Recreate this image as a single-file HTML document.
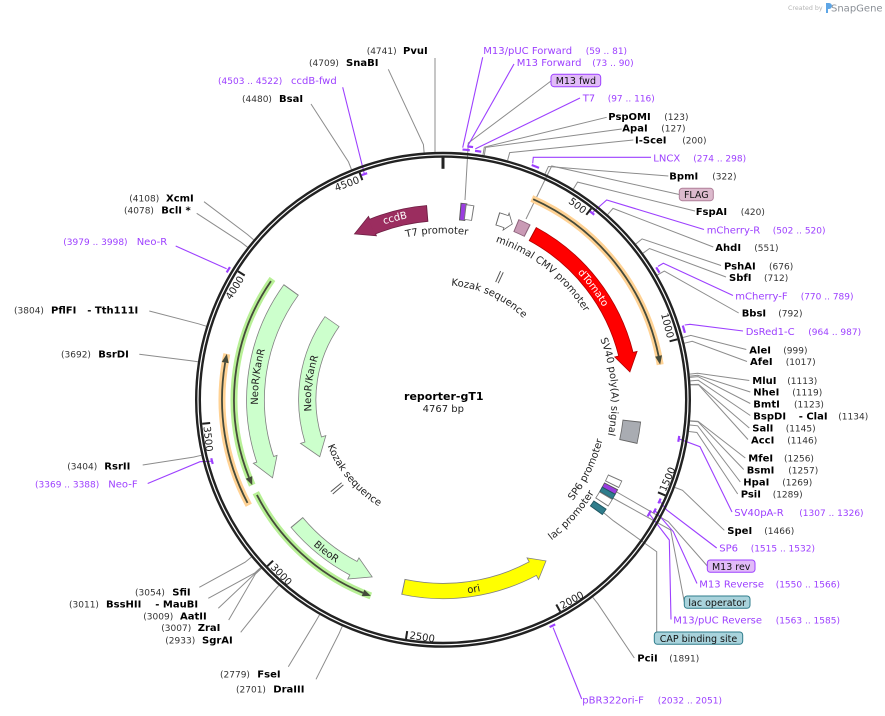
<!DOCTYPE html>
<html><head><meta charset="utf-8"><style>
html,body{margin:0;padding:0;background:#fff;}
svg{display:block;font-family:"DejaVu Sans","Liberation Sans",sans-serif;}
.n{font-size:9px;fill:#333}
.e{font-size:10px;font-weight:bold;fill:#000}
.p{font-size:10px;fill:#9d40ff}
.pn{font-size:9px;fill:#9d40ff}
.l{fill:none;stroke:#8c8c8c;stroke-width:1}
.pl{fill:none;stroke:#9d40ff;stroke-width:1.1}
.tk{font-size:10px;fill:#222}
.fl{font-size:10px;fill:#222}
.bx{font-size:9.5px;fill:#111}
.a{fill:none}
</style></head><body>
<svg width="885" height="716" viewBox="0 0 885 716" xmlns="http://www.w3.org/2000/svg">
<defs>
<path id="cw166" d="M443,233.3 A166.5,166.5 0 1 1 443,566.3 A166.5,166.5 0 1 1 443,233.3 A166.5,166.5 0 1 1 443,566.3 A166.5,166.5 0 1 1 443,233.3"/>
<path id="cw114" d="M443,285.3 A114.5,114.5 0 1 1 443,514.3 A114.5,114.5 0 1 1 443,285.3 A114.5,114.5 0 1 1 443,514.3 A114.5,114.5 0 1 1 443,285.3"/>
<path id="cw168" d="M443,231.3 A168.5,168.5 0 1 1 443,568.3 A168.5,168.5 0 1 1 443,231.3 A168.5,168.5 0 1 1 443,568.3 A168.5,168.5 0 1 1 443,231.3"/>
<path id="cw185" d="M443,214.8 A185,185 0 1 1 443,584.8 A185,185 0 1 1 443,214.8 A185,185 0 1 1 443,584.8 A185,185 0 1 1 443,214.8"/>
<path id="cw132" d="M443,267.8 A132,132 0 1 1 443,531.8 A132,132 0 1 1 443,267.8 A132,132 0 1 1 443,531.8 A132,132 0 1 1 443,267.8"/>
<path id="ccw164" d="M443,564.3 A164.5,164.5 0 1 0 443,235.3 A164.5,164.5 0 1 0 443,564.3 A164.5,164.5 0 1 0 443,235.3 A164.5,164.5 0 1 0 443,564.3"/>
<path id="ccw177" d="M443,577.3 A177.5,177.5 0 1 0 443,222.3 A177.5,177.5 0 1 0 443,577.3 A177.5,177.5 0 1 0 443,222.3 A177.5,177.5 0 1 0 443,577.3"/>
<path id="ccw124" d="M443,524.1 A124.3,124.3 0 1 0 443,275.5 A124.3,124.3 0 1 0 443,524.1 A124.3,124.3 0 1 0 443,275.5 A124.3,124.3 0 1 0 443,524.1"/>
<path id="ccw195" d="M443,594.8 A195,195 0 1 0 443,204.8 A195,195 0 1 0 443,594.8 A195,195 0 1 0 443,204.8 A195,195 0 1 0 443,594.8"/>
</defs>
<rect width="885" height="716" fill="#fff"/>

<!-- Created by SnapGene -->
<text x="788" y="10" font-size="6.3" fill="#b5b5b5">Created by</text>
<path d="M826,3 h3 a2.5,2.5 0 0 1 0,6 h-1 v4 h-2 z" fill="#5ea6e6"/>
<text x="831" y="11.5" font-size="10" fill="#8a8f96">SnapGene</text>

<!-- leader lines (gray) -->
<g class="l">
<polyline points="435,58 435,151.9"/>
<polyline points="388.3,69.3 423.4,144.5 424.1,152.5"/>
<polyline points="311,104 348.5,161.9 351.4,169.3"/>
<polyline points="204,201.7 247.5,234.5 253.6,239.7"/>
<polyline points="196.7,213.3 241.2,242.3 247.5,247.2"/>
<polyline points="149.3,311 198.5,323.8 206.2,326.2"/>
<polyline points="139.3,354.3 190,360.6 197.9,361.8"/>
<polyline points="142.7,465 193.5,457.1 201.3,455.3"/>
<polyline points="199.3,587.3 245.1,562.2 251.3,557.1"/>
<polyline points="208.3,598.3 254.6,573.1 260.5,567.7"/>
<polyline points="218.3,608.3 255,573.6 260.9,568.2"/>
<polyline points="228.7,620 255.4,574 261.4,568.5"/>
<polyline points="240.7,632.3 273.4,591.5 278.7,585.6"/>
<polyline points="288.3,666.7 315.5,621.8 319.5,614.9"/>
<polyline points="316,679.3 339,633.7 342.2,626.4"/>

<polyline points="606.7,117.3 484.3,147.2 483,155"/>
<polyline points="621.7,129 485.6,147.4 484.3,155.3"/>
<polyline points="633.3,140 509.7,152.6 507.6,160.3"/>
<polyline points="668.3,176 548.4,166.5 545.1,173.8"/>
<polyline points="695,211 577.6,182.1 573.4,188.9"/>
<polyline points="713.3,247 613,208.4 607.7,214.4"/>
<polyline points="721,265.5 642.1,238.9 635.9,243.9"/>
<polyline points="726,277 649.5,248.5 643,253.2"/>
<polyline points="738.7,313 664.3,271.1 657.3,275.1"/>
<polyline points="746.3,349.5 690.8,335.4 683,337.5"/>
<polyline points="747,361.5 692.2,341.3 684.5,343.2"/>
<polyline points="749.3,380.5 697.6,373.3 689.7,374.1"/>
<polyline points="750.3,392 697.8,375.3 689.9,376.1"/>
<polyline points="750.3,403.5 698,376.6 690,377.4"/>
<polyline points="750.3,415.5 698.3,380.3 690.3,380.9"/>
<polyline points="749.3,428 698.5,384.4 690.6,384.5"/>
<polyline points="748,439.5 698.6,384.8 690.6,384.9"/>
<polyline points="745.3,458 698.1,421.4 690.1,420.8"/>
<polyline points="743.7,469.5 698.1,421.8 690.1,421.1"/>
<polyline points="740.3,482 697.7,425.8 689.7,425"/>
<polyline points="737.7,494 696.9,432.5 689,431.5"/>
<polyline points="724.3,530.3 682.5,490.3 675,487.5"/>
<polyline points="634.3,658 597.8,603.7 592.9,597.4"/>

<polyline points="551,81 468.3,143 465,200"/>
<polyline points="679.3,194.5 551.7,166 526,219"/>
<polyline points="707.3,566 668.3,521.7 615,491"/>
<polyline points="684.3,602 670.7,530 611,497"/>
<polyline points="656.7,632 656.7,551.7 613.3,520.7 604,513"/>
</g>

<!-- primer leader lines -->
<g class="pl">
<polyline points="482.7,57.3 462.7,147.6"/>
<polyline points="514,64 467.4,146.5"/>
<polyline points="580,98 475.3,148.9"/>
<polyline points="651,157.3 533.3,157.3 532.7,163.3"/>
<polyline points="704,229.5 606.7,200 592.1,213"/>
<polyline points="733,295.5 663.3,263.3 658,266.4"/>
<polyline points="743,331 690,324.3 684.7,325"/>
<polyline points="732,512 700,446.7 678.8,438.8"/>
<polyline points="716.7,548 666.7,510 659.6,500.8"/>
<polyline points="697,583.5 673.3,531.7 654.8,510.5"/>
<polyline points="671,619.5 669.3,540 649.1,513.6"/>
<polyline points="581.7,699 553.1,627.6"/>
<polyline points="342.7,87.3 364.4,174.1"/>
<polyline points="175.7,246 226.6,268.8"/>
<polyline points="147.7,483.5 200,461.7 212.1,461.2"/>
</g>

<!-- main ring -->
<circle cx="443" cy="399.8" r="246.8" fill="none" stroke="#222" stroke-width="2.4"/>
<circle cx="443" cy="399.8" r="243.2" fill="none" stroke="#222" stroke-width="2.4"/>

<!-- primer brackets -->
<g fill="none" stroke="#9d40ff" stroke-width="2.2">
<circle cx="443" cy="399.8" r="251" stroke-dasharray="7.3 2000" transform="rotate(-85.54 443 399.8)"/>
<circle cx="443" cy="399.8" r="254.5" stroke-dasharray="5.7 2000" transform="rotate(-84.49 443 399.8)"/>
<circle cx="443" cy="399.8" r="251" stroke-dasharray="6.3 2000" transform="rotate(-82.67 443 399.8)"/>
<circle cx="443" cy="399.8" r="251" stroke-dasharray="7.9 2000" transform="rotate(-69.31 443 399.8)"/>
<circle cx="443" cy="399.8" r="251" stroke-dasharray="6.3 2000" transform="rotate(-31.85 443 399.8)"/>
<circle cx="443" cy="399.8" r="251" stroke-dasharray="7.6 2000" transform="rotate(-17.2 443 399.8)"/>
<circle cx="443" cy="399.8" r="251" stroke-dasharray="6.3 2000" transform="rotate(63.45 443 399.8)"/>
<circle cx="443" cy="399.8" r="251" stroke-dasharray="6.3 2000" transform="rotate(210.49 443 399.8)"/>
<circle cx="443" cy="399.8" r="239" stroke-dasharray="6.0 2000" transform="rotate(250.07 443 399.8)"/>
<circle cx="443" cy="399.8" r="239" stroke-dasharray="5.7 2000" transform="rotate(-52.09 443 399.8)"/>
<circle cx="443" cy="399.8" r="239" stroke-dasharray="6.0 2000" transform="rotate(8.70 443 399.8)"/>
<circle cx="443" cy="399.8" r="239" stroke-dasharray="5.4 2000" transform="rotate(24.41 443 399.8)"/>
<circle cx="443" cy="399.8" r="239" stroke-dasharray="5.0 2000" transform="rotate(27.05 443 399.8)"/>
<circle cx="443" cy="399.8" r="235.5" stroke-dasharray="6.8 2000" transform="rotate(28.04 443 399.8)"/>
<circle cx="443" cy="399.8" r="239" stroke-dasharray="6.0 2000" transform="rotate(164.43 443 399.8)"/>
</g>

<!-- ticks -->
<g stroke="#222" stroke-width="2">
<line x1="443" y1="157.3" x2="443" y2="168.8" stroke-width="3"/>
<line x1="443" y1="157.8" x2="443" y2="165.8" transform="rotate(37.76 443 399.8)"/>
<line x1="443" y1="157.8" x2="443" y2="165.8" transform="rotate(75.52 443 399.8)"/>
<line x1="443" y1="157.8" x2="443" y2="165.8" transform="rotate(113.28 443 399.8)"/>
<line x1="443" y1="157.8" x2="443" y2="165.8" transform="rotate(151.04 443 399.8)"/>
<line x1="443" y1="157.8" x2="443" y2="165.8" transform="rotate(188.80 443 399.8)"/>
<line x1="443" y1="157.8" x2="443" y2="165.8" transform="rotate(226.56 443 399.8)"/>
<line x1="443" y1="157.8" x2="443" y2="165.8" transform="rotate(264.32 443 399.8)"/>
<line x1="443" y1="157.8" x2="443" y2="165.8" transform="rotate(302.08 443 399.8)"/>
<line x1="443" y1="157.8" x2="443" y2="165.8" transform="rotate(339.84 443 399.8)"/>
</g>
<g class="tk">
<text x="440" y="167.3" text-anchor="end" transform="rotate(37.76 443 399.8)">500</text>
<text x="440" y="167.3" text-anchor="end" transform="rotate(75.52 443 399.8)">1000</text>
<text x="446" y="640.8" transform="rotate(-66.72 443 399.8)">1500</text>
<text x="446" y="640.8" transform="rotate(-28.96 443 399.8)">2000</text>
<text x="446" y="640.8" transform="rotate(8.80 443 399.8)">2500</text>
<text x="446" y="640.8" transform="rotate(46.56 443 399.8)">3000</text>
<text x="446" y="640.8" transform="rotate(84.32 443 399.8)">3500</text>
<text x="440" y="167.3" text-anchor="end" transform="rotate(-57.92 443 399.8)">4000</text>
<text x="440" y="167.3" text-anchor="end" transform="rotate(-20.16 443 399.8)">4500</text>
</g>

<!-- ORF arcs -->
<g fill="none">
<circle cx="443" cy="399.8" r="220" stroke="#ffd294" stroke-width="7" stroke-dasharray="218.9 2000" transform="rotate(-66.2 443 399.8)"/>
<circle cx="443" cy="399.8" r="221" stroke="#ffd294" stroke-width="7" stroke-dasharray="156.2 2000" transform="rotate(151.5 443 399.8)"/>
<circle cx="443" cy="399.8" r="209" stroke="#b8f096" stroke-width="7" stroke-dasharray="216.7 2000" transform="rotate(155.9 443 399.8)"/>
<circle cx="443" cy="399.8" r="209" stroke="#b8f096" stroke-width="7" stroke-dasharray="158.3 2000" transform="rotate(110.2 443 399.8)"/>
<g stroke="#454a3a" stroke-width="1.8">
<circle cx="443" cy="399.8" r="220" stroke-dasharray="208.5 2000" transform="rotate(-65.8 443 399.8)"/>
<circle cx="443" cy="399.8" r="221" stroke-dasharray="144.6 2000" transform="rotate(152.2 443 399.8)"/>
<circle cx="443" cy="399.8" r="209" stroke-dasharray="205.7 2000" transform="rotate(158.2 443 399.8)"/>
<circle cx="443" cy="399.8" r="209" stroke-dasharray="147.4 2000" transform="rotate(112.5 443 399.8)"/>
</g>
</g>
<g fill="#454a3a">
<polygon points="443,176.3 443,183.3 451.8,180" transform="rotate(78.5 443 399.8)"/>
<polygon points="443,175.3 443,182.3 451.9,179" transform="rotate(279.7 443 399.8)"/>
<polygon points="443,187.3 443,194.3 434.6,191" transform="rotate(248.2 443 399.8)"/>
<polygon points="443,187.3 443,194.3 434.6,191" transform="rotate(202.5 443 399.8)"/>
</g>

<!-- ccdB -->
<circle cx="443" cy="399.8" r="187" fill="none" stroke="#6e1f44" stroke-width="16.6" stroke-dasharray="56.8 2000" transform="rotate(247.9 443 399.8)"/>
<polygon points="443,201.8 443,222.8 423.4,212.8" fill="#9b2d5f" stroke="#6e1f44" stroke-width="0.8" transform="rotate(337.9 443 399.8)"/>
<circle cx="443" cy="399.8" r="187" fill="none" stroke="#9b2d5f" stroke-width="15" stroke-dasharray="56.8 2000" transform="rotate(247.6 443 399.8)"/>

<!-- dTomato -->
<circle cx="443" cy="399.8" r="188.5" fill="none" stroke="#b00000" stroke-width="15.6" stroke-dasharray="156.9 2000" transform="rotate(-61.7 443 399.8)"/>
<polygon points="443,199.8 443,222.8 461.1,211.7" fill="#ff0000" stroke="#b00000" stroke-width="0.8" transform="rotate(76 443 399.8)"/>
<circle cx="443" cy="399.8" r="188.5" fill="none" stroke="#ff0000" stroke-width="14" stroke-dasharray="156.9 2000" transform="rotate(-61.4 443 399.8)"/>

<!-- NeoR/KanR outer -->
<circle cx="443" cy="399.8" r="187.5" fill="none" stroke="#808080" stroke-width="18.6" stroke-dasharray="178.3 2000" transform="rotate(161.5 443 399.8)"/>
<polygon points="443,199.8 443,224.8 423.1,213.4" fill="#ccffcc" stroke="#808080" stroke-width="0.8" transform="rotate(251.5 443 399.8)"/>
<circle cx="443" cy="399.8" r="187.5" fill="none" stroke="#ccffcc" stroke-width="17" stroke-dasharray="178.3 2000" transform="rotate(161.2 443 399.8)"/>

<!-- NeoR/KanR inner -->
<circle cx="443" cy="399.8" r="135.75" fill="none" stroke="#808080" stroke-width="18.1" stroke-dasharray="123.9 2000" transform="rotate(163 443 399.8)"/>
<polygon points="443,250.8 443,277.3 424.6,265.3" fill="#ccffcc" stroke="#808080" stroke-width="0.8" transform="rotate(253 443 399.8)"/>
<circle cx="443" cy="399.8" r="135.75" fill="none" stroke="#ccffcc" stroke-width="16.5" stroke-dasharray="123.9 2000" transform="rotate(162.7 443 399.8)"/>

<!-- BleoR -->
<circle cx="443" cy="399.8" r="190.75" fill="none" stroke="#808080" stroke-width="16.1" stroke-dasharray="73.6 2000" transform="rotate(118 443 399.8)"/>
<polygon points="443,196.8 443,220.8 422.4,210.2" fill="#ccffcc" stroke="#808080" stroke-width="0.8" transform="rotate(208 443 399.8)"/>
<circle cx="443" cy="399.8" r="190.75" fill="none" stroke="#ccffcc" stroke-width="14.5" stroke-dasharray="73.6 2000" transform="rotate(117.7 443 399.8)"/>

<!-- ori -->
<circle cx="443" cy="399.8" r="191.25" fill="none" stroke="#808080" stroke-width="16.1" stroke-dasharray="133.8 2000" transform="rotate(62 443 399.8)"/>
<polygon points="443,196.3 443,220.8 427.7,209.2" fill="#ffff00" stroke="#808080" stroke-width="0.8" transform="rotate(152 443 399.8)"/>
<circle cx="443" cy="399.8" r="191.25" fill="none" stroke="#ffff00" stroke-width="14.5" stroke-dasharray="133.8 2000" transform="rotate(61.7 443 399.8)"/>

<!-- SV40 poly(A) signal -->
<circle cx="443" cy="399.8" r="190" fill="none" stroke="#666" stroke-width="18.6" stroke-dasharray="21.6 2000" transform="rotate(6.3 443 399.8)"/>
<circle cx="443" cy="399.8" r="190" fill="none" stroke="#a9acb2" stroke-width="17" stroke-dasharray="19.6 2000" transform="rotate(6.6 443 399.8)"/>

<!-- small features top -->
<circle cx="443" cy="399.8" r="189" fill="none" stroke="#555" stroke-width="17.6" stroke-dasharray="6.6 2000" transform="rotate(-84.9 443 399.8)"/>
<circle cx="443" cy="399.8" r="189" fill="none" stroke="#9b3de0" stroke-width="16" stroke-dasharray="4.6 2000" transform="rotate(-84.6 443 399.8)"/>
<circle cx="443" cy="399.8" r="189" fill="none" stroke="#777" stroke-width="15.6" stroke-dasharray="8.6 2000" transform="rotate(-83.4 443 399.8)"/>
<circle cx="443" cy="399.8" r="189" fill="none" stroke="#fff" stroke-width="14" stroke-dasharray="6.6 2000" transform="rotate(-83.1 443 399.8)"/>
<!-- minimal CMV -->
<circle cx="443" cy="399.8" r="189" fill="none" stroke="#666" stroke-width="13.6" stroke-dasharray="9.2 2000" transform="rotate(-73.3 443 399.8)"/>
<polygon points="443,201.8 443,219.8 449.6,210.9" fill="#fff" stroke="#666" stroke-width="0.8" transform="rotate(19.5 443 399.8)"/>
<circle cx="443" cy="399.8" r="189" fill="none" stroke="#fff" stroke-width="12" stroke-dasharray="9.2 2000" transform="rotate(-73 443 399.8)"/>
<!-- FLAG -->
<circle cx="443" cy="399.8" r="189" fill="none" stroke="#8a6078" stroke-width="13.6" stroke-dasharray="12.9 2000" transform="rotate(-67.3 443 399.8)"/>
<circle cx="443" cy="399.8" r="189" fill="none" stroke="#c99ab5" stroke-width="12" stroke-dasharray="10.9 2000" transform="rotate(-67 443 399.8)"/>

<!-- small features bottom right -->
<circle cx="443" cy="399.8" r="189" fill="none" stroke="#777" stroke-width="15.6" stroke-dasharray="7.9 2000" transform="rotate(24.3 443 399.8)"/>
<circle cx="443" cy="399.8" r="189" fill="none" stroke="#fff" stroke-width="14" stroke-dasharray="5.9 2000" transform="rotate(24.6 443 399.8)"/>
<circle cx="443" cy="399.8" r="189" fill="none" stroke="#555" stroke-width="15.6" stroke-dasharray="6.6 2000" transform="rotate(27.1 443 399.8)"/>
<circle cx="443" cy="399.8" r="189" fill="none" stroke="#9b3de0" stroke-width="14" stroke-dasharray="4.6 2000" transform="rotate(27.4 443 399.8)"/>
<circle cx="443" cy="399.8" r="189" fill="none" stroke="#1f5560" stroke-width="15.6" stroke-dasharray="6.3 2000" transform="rotate(28.6 443 399.8)"/>
<circle cx="443" cy="399.8" r="189" fill="none" stroke="#2f7d8c" stroke-width="14" stroke-dasharray="4.3 2000" transform="rotate(28.9 443 399.8)"/>
<circle cx="443" cy="399.8" r="189" fill="none" stroke="#777" stroke-width="15.6" stroke-dasharray="8.6 2000" transform="rotate(30.3 443 399.8)"/>
<circle cx="443" cy="399.8" r="189" fill="none" stroke="#fff" stroke-width="14" stroke-dasharray="6.6 2000" transform="rotate(30.6 443 399.8)"/>
<circle cx="443" cy="399.8" r="189" fill="none" stroke="#1f5560" stroke-width="15.6" stroke-dasharray="7.3 2000" transform="rotate(33.7 443 399.8)"/>
<circle cx="443" cy="399.8" r="189" fill="none" stroke="#2f7d8c" stroke-width="14" stroke-dasharray="5.3 2000" transform="rotate(34 443 399.8)"/>

<!-- Kozak marks -->
<g stroke="#555" stroke-width="1">
<line x1="443" y1="258.8" x2="443" y2="270.8" transform="rotate(24.1 443 399.8)"/>
<line x1="443" y1="258.8" x2="443" y2="270.8" transform="rotate(25.3 443 399.8)"/>
<line x1="443" y1="254.8" x2="443" y2="268.8" transform="rotate(229.5 443 399.8)"/>
<line x1="443" y1="254.8" x2="443" y2="268.8" transform="rotate(230.7 443 399.8)"/>
</g>

<!-- curved feature labels -->
<g class="fl">
<text><textPath href="#cw166" startOffset="49.71%" text-anchor="middle">T7 promoter</textPath></text>
<text><textPath href="#cw166" startOffset="5.32%" text-anchor="middle">minimal CMV promoter</textPath></text>
<text><textPath href="#cw114" startOffset="3.39%" text-anchor="middle">Kozak sequence</textPath></text>
<text><textPath href="#cw168" startOffset="11.875%" text-anchor="middle">SV40 poly(A) signal</textPath></text>
<text><textPath href="#cw185" startOffset="38.49%" text-anchor="middle">NeoR/KanR</textPath></text>
<text><textPath href="#cw132" startOffset="38.49%" text-anchor="middle">NeoR/KanR</textPath></text>
<text fill="#fff" style="fill:#fff"><textPath href="#cw185" startOffset="7.40%" text-anchor="middle">dTomato</textPath></text>
<text fill="#fff" style="fill:#fff"><textPath href="#cw185" startOffset="47.94%" text-anchor="middle">ccdB</textPath></text>
<text><textPath href="#ccw164" startOffset="8.89%" text-anchor="middle">SP6 promoter</textPath></text>
<text><textPath href="#ccw177" startOffset="6.67%" text-anchor="middle">lac promoter</textPath></text>
<text><textPath href="#ccw124" startOffset="43.11%" text-anchor="middle">Kozak sequence</textPath></text>
<text><textPath href="#ccw195" startOffset="44.79%" text-anchor="middle">BleoR</textPath></text>
<text><textPath href="#ccw195" startOffset="1.28%" text-anchor="middle">ori</textPath></text>
</g>

<!-- center -->
<text x="443.8" y="400" text-anchor="middle" font-size="11" font-weight="bold" fill="#000">reporter-gT1</text>
<text x="443.3" y="411.8" text-anchor="middle" font-size="10" fill="#222">4767 bp</text>

<!-- left labels -->
<text class="n" x="366.7" y="54">(4741)</text><text class="e" x="403" y="54">PvuI</text>
<text class="n" x="309" y="66">(4709)</text><text class="e" x="346" y="66">SnaBI</text>
<text class="pn" x="218" y="84">(4503 .. 4522)</text><text class="p" x="291" y="84">ccdB-fwd</text>
<text class="n" x="242" y="102">(4480)</text><text class="e" x="279" y="102">BsaI</text>
<text class="n" x="129.3" y="201.7">(4108)</text><text class="e" x="166" y="201.7">XcmI</text>
<text class="n" x="124" y="213.3">(4078)</text><text class="e" x="161.3" y="213.3">BclI *</text>
<text class="pn" x="63.3" y="245">(3979 .. 3998)</text><text class="p" x="136.7" y="245">Neo-R</text>
<text class="n" x="14" y="313.3">(3804)</text><text class="e" x="51" y="313.3">PflFI</text><text class="e" x="87.3" y="313.3">- Tth111I</text>
<text class="n" x="61" y="357.3">(3692)</text><text class="e" x="98.3" y="357.3">BsrDI</text>
<text class="n" x="67.3" y="469.3">(3404)</text><text class="e" x="104.3" y="469.3">RsrII</text>
<text class="pn" x="35" y="487.3">(3369 .. 3388)</text><text class="p" x="108.3" y="487.3">Neo-F</text>
<text class="n" x="135" y="595.7">(3054)</text><text class="e" x="172.3" y="595.7">SfiI</text>
<text class="n" x="69" y="607.7">(3011)</text><text class="e" x="106" y="607.7">BssHII</text><text class="e" x="155.3" y="607.7">- MauBI</text>
<text class="n" x="143.3" y="619.3">(3009)</text><text class="e" x="180" y="619.3">AatII</text>
<text class="n" x="161.3" y="631">(3007)</text><text class="e" x="197.7" y="631">ZraI</text>
<text class="n" x="165.3" y="643.3">(2933)</text><text class="e" x="202" y="643.3">SgrAI</text>
<text class="n" x="220" y="677.3">(2779)</text><text class="e" x="257.3" y="677.3">FseI</text>
<text class="n" x="236" y="692.7">(2701)</text><text class="e" x="273.3" y="692.7">DraIII</text>

<!-- right labels -->
<text class="p" x="483.3" y="54">M13/pUC Forward</text><text class="pn" x="585.7" y="54">(59 .. 81)</text>
<text class="p" x="516.7" y="66">M13 Forward</text><text class="pn" x="592.3" y="66">(73 .. 90)</text>
<rect x="551" y="74.3" width="49.7" height="12.4" rx="3" fill="#e1bbf8" stroke="#9d40ff" stroke-width="1"/>
<text class="bx" x="575.85" y="84" text-anchor="middle">M13 fwd</text>
<text class="p" x="582.7" y="101.7">T7</text><text class="pn" x="607.7" y="101.7">(97 .. 116)</text>
<text class="e" x="608.3" y="120">PspOMI</text><text class="n" x="664.3" y="120">(123)</text>
<text class="e" x="622.3" y="131.7">ApaI</text><text class="n" x="661.3" y="131.7">(127)</text>
<text class="e" x="635" y="143.3">I-SceI</text><text class="n" x="682.3" y="143.3">(200)</text>
<text class="p" x="653.3" y="161.7">LNCX</text><text class="pn" x="693.3" y="161.7">(274 .. 298)</text>
<text class="e" x="669.3" y="179.3">BpmI</text><text class="n" x="712.3" y="179.3">(322)</text>
<rect x="679.3" y="188.3" width="34" height="12.4" rx="3" fill="#dcbacd" stroke="#b0809a" stroke-width="1"/>
<text class="bx" x="696.3" y="198" text-anchor="middle">FLAG</text>
<text class="e" x="695.7" y="215">FspAI</text><text class="n" x="740.7" y="215">(420)</text>
<text class="p" x="706.7" y="233.3">mCherry-R</text><text class="pn" x="772.7" y="233.3">(502 .. 520)</text>
<text class="e" x="715.3" y="251">AhdI</text><text class="n" x="754.3" y="251">(551)</text>
<text class="e" x="724" y="269.3">PshAI</text><text class="n" x="769" y="269.3">(676)</text>
<text class="e" x="729" y="281">SbfI</text><text class="n" x="764" y="281">(712)</text>
<text class="p" x="735.3" y="299.3">mCherry-F</text><text class="pn" x="800.7" y="299.3">(770 .. 789)</text>
<text class="e" x="741.7" y="316.7">BbsI</text><text class="n" x="778.3" y="316.7">(792)</text>
<text class="p" x="745.7" y="335">DsRed1-C</text><text class="pn" x="808.3" y="335">(964 .. 987)</text>
<text class="e" x="749.3" y="353.3">AleI</text><text class="n" x="783.3" y="353.3">(999)</text>
<text class="e" x="750" y="365">AfeI</text><text class="n" x="785.7" y="365">(1017)</text>
<text class="e" x="752.3" y="384">MluI</text><text class="n" x="787.3" y="384">(1113)</text>
<text class="e" x="753.3" y="395.7">NheI</text><text class="n" x="792.3" y="395.7">(1119)</text>
<text class="e" x="753.3" y="407.3">BmtI</text><text class="n" x="794" y="407.3">(1123)</text>
<text class="e" x="753.3" y="419.3">BspDI</text><text class="e" x="798.7" y="419.3">- ClaI</text><text class="n" x="838.3" y="419.3">(1134)</text>
<text class="e" x="752.3" y="431.7">SalI</text><text class="n" x="785.7" y="431.7">(1145)</text>
<text class="e" x="751" y="443.3">AccI</text><text class="n" x="787.3" y="443.3">(1146)</text>
<text class="e" x="748.3" y="461.7">MfeI</text><text class="n" x="784" y="461.7">(1256)</text>
<text class="e" x="746.7" y="473.3">BsmI</text><text class="n" x="788.3" y="473.3">(1257)</text>
<text class="e" x="743.3" y="485.7">HpaI</text><text class="n" x="782.3" y="485.7">(1269)</text>
<text class="e" x="740.7" y="497.7">PsiI</text><text class="n" x="772.7" y="497.7">(1289)</text>
<text class="p" x="734.3" y="516">SV40pA-R</text><text class="pn" x="799.3" y="516">(1307 .. 1326)</text>
<text class="e" x="727.3" y="534">SpeI</text><text class="n" x="764.3" y="534">(1466)</text>
<text class="p" x="719.3" y="551.7">SP6</text><text class="pn" x="750.7" y="551.7">(1515 .. 1532)</text>
<rect x="707.3" y="560" width="47.7" height="12.3" rx="3" fill="#e1bbf8" stroke="#9d40ff" stroke-width="1"/>
<text class="bx" x="731.2" y="569.8" text-anchor="middle">M13 rev</text>
<text class="p" x="699.3" y="587.3">M13 Reverse</text><text class="pn" x="775.7" y="587.3">(1550 .. 1566)</text>
<rect x="684.3" y="596" width="65.7" height="12.3" rx="3" fill="#a9d3dc" stroke="#2f7d8c" stroke-width="1"/>
<text class="bx" x="717.2" y="605.8" text-anchor="middle">lac operator</text>
<text class="p" x="673.3" y="623.3">M13/pUC Reverse</text><text class="pn" x="775.7" y="623.3">(1563 .. 1585)</text>
<rect x="654.3" y="632" width="88.4" height="12.3" rx="3" fill="#a9d3dc" stroke="#2f7d8c" stroke-width="1"/>
<text class="bx" x="698.5" y="641.8" text-anchor="middle">CAP binding site</text>
<text class="e" x="637.3" y="661.7">PciI</text><text class="n" x="669.3" y="661.7">(1891)</text>
<text class="p" x="582.3" y="703.3">pBR322ori-F</text><text class="pn" x="657.7" y="703.3">(2032 .. 2051)</text>
</svg>
</body></html>
